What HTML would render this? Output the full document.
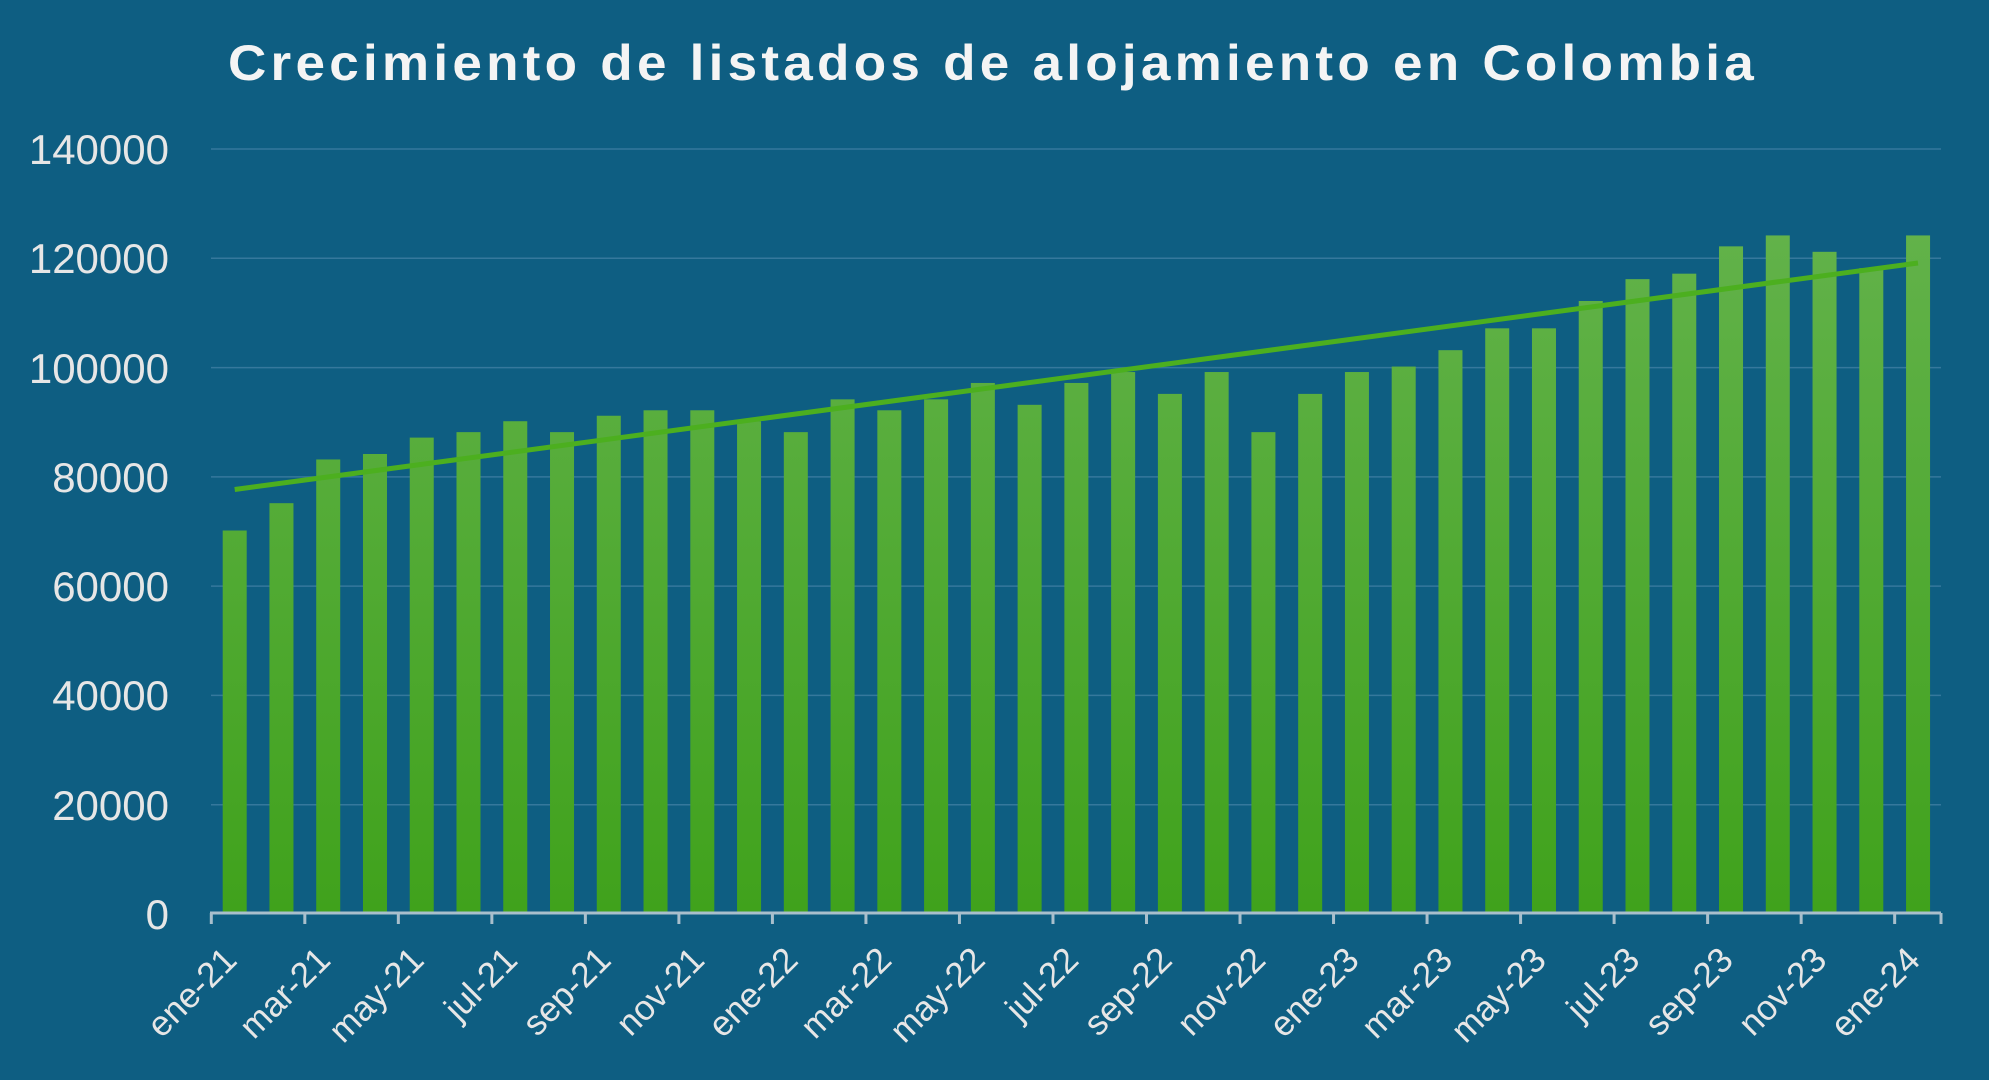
<!DOCTYPE html>
<html><head><meta charset="utf-8"><style>
html,body{margin:0;padding:0;background:#0e5e82;}
svg{display:block;font-family:"Liberation Sans",sans-serif;}
</style></head><body>
<svg width="1989" height="1080" viewBox="0 0 1989 1080" xmlns="http://www.w3.org/2000/svg">
<defs>
<linearGradient id="bg" gradientUnits="userSpaceOnUse" x1="0" y1="230" x2="0" y2="913">
<stop offset="0" stop-color="#62b24a"/><stop offset="1" stop-color="#40a21c"/>
</linearGradient>
</defs>
<rect width="1989" height="1080" fill="#0e5e82"/>
<text x="993" y="80" text-anchor="middle" fill="#f4f4f4" font-weight="bold" font-size="50" letter-spacing="4" textLength="1530" lengthAdjust="spacingAndGlyphs">Crecimiento de listados de alojamiento en Colombia</text>
<g stroke="#3f7fa3" stroke-width="1.5" opacity="0.8">
<line x1="211" x2="1941" y1="149" y2="149"/>
<line x1="211" x2="1941" y1="258.3" y2="258.3"/>
<line x1="211" x2="1941" y1="367.6" y2="367.6"/>
<line x1="211" x2="1941" y1="476.9" y2="476.9"/>
<line x1="211" x2="1941" y1="586.1" y2="586.1"/>
<line x1="211" x2="1941" y1="695.4" y2="695.4"/>
<line x1="211" x2="1941" y1="804.7" y2="804.7"/>
</g>
<g fill="#e6e6e6" font-size="42" text-anchor="end">
<text x="169" y="164">140000</text>
<text x="169" y="273">120000</text>
<text x="169" y="383">100000</text>
<text x="169" y="492">80000</text>
<text x="169" y="601">60000</text>
<text x="169" y="710">40000</text>
<text x="169" y="820">20000</text>
<text x="169" y="929">0</text>
</g>
<g id="bars" fill="url(#bg)"></g>
<line x1="234.7" y1="489.5" x2="1918" y2="263" stroke="#4caf1f" stroke-width="5"/>
<line x1="210" y1="913" x2="1941" y2="913" stroke="#a9bfcc" stroke-width="3"/>
<g id="ticks" stroke="#a9bfcc" stroke-width="3"></g>
<g id="labels" fill="#e6e6e6" font-size="35" text-anchor="end"></g>
<script>
var v=[70,75,83,84,87,88,90,88,91,92,92,90,88,94,92,94,97,93,97,99,95,99,88,95,99,100,103,107,107,112,116,117,122,124,121,118,124];
var ns="http://www.w3.org/2000/svg",b=document.getElementById("bars"),t=document.getElementById("ticks"),l=document.getElementById("labels");
var m=["ene","mar","may","jul","sep","nov"];
for(var i=0;i<37;i++){var cx=234.7+i*46.76,h=v[i]*1000*765/140000;var r=document.createElementNS(ns,"rect");r.setAttribute("x",cx-12);r.setAttribute("width",24);r.setAttribute("y",913-h);r.setAttribute("height",h);b.appendChild(r);
if(i%2==0){var k=document.createElementNS(ns,"line");var tx=211.3+i*46.76;k.setAttribute("x1",tx);k.setAttribute("x2",tx);k.setAttribute("y1",913);k.setAttribute("y2",924);t.appendChild(k);
var s=document.createElementNS(ns,"text");var yr=21+Math.floor(i/12);s.textContent=m[(i%12)/2]+"-"+yr;s.setAttribute("transform","translate("+(cx+4)+",962) rotate(-45)");l.appendChild(s);}}
var k2=document.createElementNS(ns,"line");k2.setAttribute("x1",1941);k2.setAttribute("x2",1941);k2.setAttribute("y1",913);k2.setAttribute("y2",924);t.appendChild(k2);
</script>
</svg>
</body></html>
